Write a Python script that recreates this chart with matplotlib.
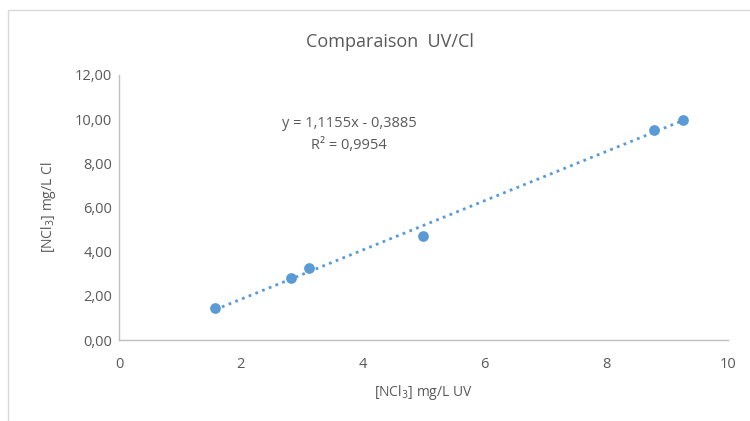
import numpy as np
import matplotlib.pyplot as plt
from matplotlib.patches import Rectangle

# data
uv = [1.58, 2.83, 3.12, 4.99, 8.79, 9.26]
cl = [1.44, 2.83, 3.25, 4.69, 9.50, 9.98]
slope, intercept = 1.1155, -0.3885
eq_text = "y = 1,1155x - 0,3885\nR² = 0,9954"
x_ticks = [0, 2, 4, 6, 8, 10]
y_ticks = [0, 2, 4, 6, 8, 10, 12]

plt.rcParams['font.family'] = ['Open Sans', 'DejaVu Sans']
grey = '#595959'
blue = '#5B9BD5'

fig = plt.figure(figsize=(7.5, 4.21), dpi=100)
ax = fig.add_axes([119/750, 81/421, (728-119)/750, (340-75)/421])

# chart border
fig.patches.append(Rectangle((8/750, -0.01), 1.0, 1 - 10/421 + 0.01, transform=fig.transFigure,
                             fill=False, edgecolor='#d9d9d9', linewidth=1))

ax.scatter(uv, cl, s=60, color=blue, zorder=3, linewidths=0)
xs = np.array([min(uv), max(uv)])
ax.plot(xs, slope * xs + intercept, linestyle=(0, (1, 1.6)), color=blue, linewidth=2, zorder=2)

ax.set_xlim(0, 10)
ax.set_ylim(0, 12)
ax.set_xticks(x_ticks)
ax.set_yticks(y_ticks)
ax.set_yticklabels([f"{v:.2f}".replace('.', ',') for v in y_ticks])
ax.tick_params(length=0, colors=grey, labelsize=10.5)
ax.tick_params(axis='x', pad=12)
ax.tick_params(axis='y', pad=5)
for s in ['top', 'right']:
    ax.spines[s].set_visible(False)
for s in ['left', 'bottom']:
    ax.spines[s].set_color('#bfbfbf')
    ax.spines[s].set_linewidth(1)

ax.set_xlabel("[NCl$_3$] mg/L UV", color=grey, fontsize=10, labelpad=8)
ax.set_ylabel("[NCl$_3$] mg/L Cl", color=grey, fontsize=10, labelpad=12)
fig.text(390/750, 1 - 42/421, "Comparaison  UV/Cl", ha='center', va='center', color=grey, fontsize=13)
ax.text(3.78, 9.3, eq_text, ha='center', va='center', color=grey, fontsize=10.5, linespacing=1.6)

fig.savefig('out.png', dpi=100)
